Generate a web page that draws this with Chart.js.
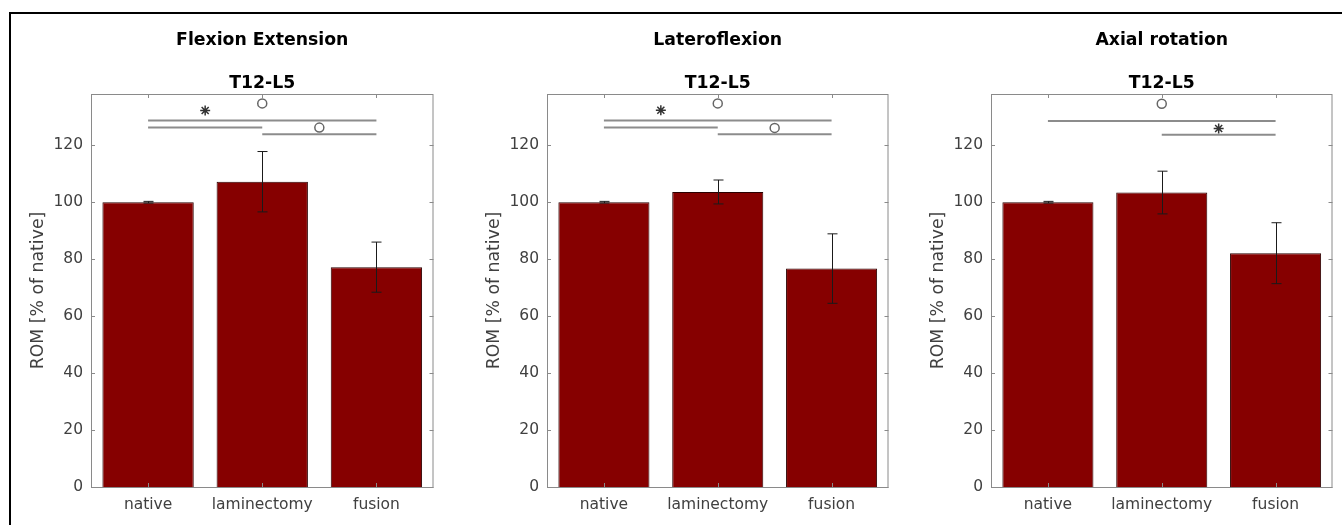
<!DOCTYPE html>
<html>
<head>
<meta charset="utf-8">
<script src="https://cdn.jsdelivr.net/npm/chart.js@4"></script>
<style>
  html, body { margin: 0; padding: 0; background: #fff; overflow: hidden; }
  #frame { position: absolute; left: 9px; top: 12px; width: 1400px; height: 600px;
           border-top: 2px solid #000; border-left: 2px solid #000; }
  canvas { position: absolute; top: 14px; }
</style>
</head>
<body>
<div id="frame"></div>
<canvas id="c1" style="left:14px" width="426" height="511"></canvas>
<canvas id="c2" style="left:470px" width="425" height="511"></canvas>
<canvas id="c3" style="left:914px" width="425" height="511"></canvas>
<script>
// data
const categories = ['native', 'laminectomy', 'fusion'];
const yTicks = [0, 20, 40, 60, 80, 100, 120];
const panelTitles = ['Flexion Extension', 'Lateroflexion', 'Axial rotation'];
const segment = 'T12-L5';

const flexMean = [100, 107.2, 77.2];
const flexSd = [0.3, 10.6, 8.8];
const latMean = [100, 103.6, 76.7];
const latSd = [0.3, 4.2, 12.2];
const axMean = [100, 103.4, 82.1];
const axSd = [0.3, 7.5, 10.7];

// significance brackets: [from, to, level]
const flexBrackets = [[0, 2, 128.7], [0, 1, 126.2], [1, 2, 123.9]];
const latBrackets = [[0, 2, 128.7], [0, 1, 126.2], [1, 2, 123.9]];
const axBrackets = [[0, 2, 128.5], [1, 2, 123.7]];
// markers: [x, y, kind]
const flexMarks = [[0.5, 132.2, 'star'], [1, 134.7, 'circle'], [1.5, 126.2, 'circle']];
const latMarks = [[0.5, 132.3, 'star'], [1, 134.7, 'circle'], [1.5, 126.1, 'circle']];
const axMarks = [[1, 134.6, 'circle'], [1.5, 125.9, 'star']];

const TXT = '#404040';
const AXC = '#8a8a8a';

const frameAndErrors = {
  id: 'frameAndErrors',
  afterDatasetsDraw(chart) {
    const ctx = chart.ctx;
    const a = chart.chartArea;
    const xs = chart.scales.x, ys = chart.scales.y;
    const p = chart.options.plugins.frameAndErrors;
    ctx.save();
    // error bars
    ctx.strokeStyle = '#1a1a1a';
    ctx.lineWidth = 1;
    p.mean.forEach((m, i) => {
      const x = Math.round(xs.getPixelForValue(i)) + 0.5;
      const yt = ys.getPixelForValue(m + p.sd[i]);
      const yb = ys.getPixelForValue(m - p.sd[i]);
      ctx.beginPath();
      ctx.moveTo(x, yt); ctx.lineTo(x, yb);
      ctx.moveTo(x - 5, yt); ctx.lineTo(x + 5, yt);
      ctx.moveTo(x - 5, yb); ctx.lineTo(x + 5, yb);
      ctx.stroke();
    });
    // axes box with inner ticks
    ctx.strokeStyle = AXC;
    ctx.lineWidth = 1;
    ctx.strokeRect(a.left + 0.5, a.top + 0.5, a.right - a.left - 1, a.bottom - a.top);
    ctx.beginPath();
    yTicks.forEach(v => {
      const y = Math.round(ys.getPixelForValue(v)) + 0.5;
      ctx.moveTo(a.left, y); ctx.lineTo(a.left + 4, y);
      ctx.moveTo(a.right, y); ctx.lineTo(a.right - 4, y);
    });
    categories.forEach((c, i) => {
      const x = Math.round(xs.getPixelForValue(i)) + 0.5;
      ctx.moveTo(x, a.top); ctx.lineTo(x, a.top + 4);
      ctx.moveTo(x, a.bottom); ctx.lineTo(x, a.bottom - 4);
    });
    ctx.stroke();
    // titles
    const cx = (a.left + a.right) / 2;
    ctx.fillStyle = '#000';
    ctx.textAlign = 'center';
    ctx.textBaseline = 'alphabetic';
    ctx.font = 'bold 17.3px "DejaVu Sans"';
    ctx.fillText(p.title, cx, 31);
    ctx.fillText(segment, cx, 74.3);
    ctx.restore();
  }
};

function makePanel(id, title, mean, sd, brackets, marks) {
  const datasets = [{
    type: 'bar',
    data: mean.map((v, i) => ({ x: i, y: v })),
    backgroundColor: '#860000',
    borderColor: '#2a0000',
    borderWidth: 1,
    categoryPercentage: 1,
    barPercentage: 0.8,
    order: 3
  }];
  brackets.forEach(b => {
    datasets.push({
      type: 'line',
      data: [{ x: b[0], y: b[2] }, { x: b[1], y: b[2] }],
      borderColor: '#8c8c8c',
      borderWidth: 2,
      pointRadius: 0,
      order: 2
    });
  });
  datasets.push({
    type: 'line',
    data: marks.map(m => ({ x: m[0], y: m[1] })),
    showLine: false,
    pointStyle: marks.map(m => m[2]),
    pointRadius: marks.map(m => m[2] === 'star' ? 5 : 4.5),
    pointBorderColor: marks.map(m => m[2] === 'star' ? '#333' : '#666'),
    pointBackgroundColor: 'rgba(0,0,0,0)',
    pointBorderWidth: 1.5,
    order: 1
  });

  return new Chart(document.getElementById(id), {
    type: 'bar',
    data: { datasets },
    options: {
      responsive: false,
      animation: false,
      events: [],
      layout: { padding: { left: 0, right: 2, top: 80, bottom: 0 } },
      plugins: {
        legend: { display: false },
        tooltip: { enabled: false },
        frameAndErrors: { title, mean, sd }
      },
      scales: {
        x: {
          type: 'linear',
          min: -0.5,
          max: 2.5,
          offset: false,
          grid: { display: false, drawTicks: false },
          border: { display: false },
          afterBuildTicks: s => { s.ticks = categories.map((c, i) => ({ value: i })); },
          afterFit: s => { s.height = 38; },
          ticks: {
            callback: v => categories[v],
            color: TXT,
            padding: 9,
            maxRotation: 0,
            font: { family: 'DejaVu Sans', size: 15.5 }
          }
        },
        y: {
          min: 0,
          max: 138,
          grid: { display: false, drawTicks: false },
          border: { display: false },
          afterBuildTicks: s => { s.ticks = yTicks.map(v => ({ value: v })); },
          afterFit: s => { s.width = 77; },
          ticks: {
            color: TXT,
            padding: 8,
            font: { family: 'DejaVu Sans', size: 15.5 }
          },
          title: {
            display: true,
            text: 'ROM [% of native]',
            color: TXT,
            padding: { top: 14, bottom: 0 },
            font: { family: 'DejaVu Sans', size: 17.3 }
          }
        }
      }
    },
    plugins: [frameAndErrors]
  });
}

makePanel('c1', panelTitles[0], flexMean, flexSd, flexBrackets, flexMarks);
makePanel('c2', panelTitles[1], latMean, latSd, latBrackets, latMarks);
makePanel('c3', panelTitles[2], axMean, axSd, axBrackets, axMarks);
</script>
</body>
</html>
